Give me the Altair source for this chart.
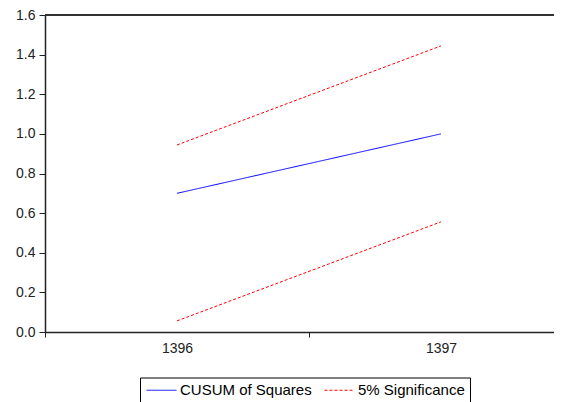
import altair as alt
import pandas as pd

years = [1396, 1397]
cusum = [0.70, 1.00]
upper = [0.944, 1.444]
lower = [0.056, 0.556]
series_names = ["CUSUM of Squares", "5% Significance"]
series_colors = ["#0000ff", "#ff0000"]
y_ticks = [0.0, 0.2, 0.4, 0.6, 0.8, 1.0, 1.2, 1.4, 1.6]
x_ticks = [1395.5, 1396, 1396.5, 1397, 1397.5]

rows = []
for y, v in zip(years, cusum):
    rows.append({"year": y, "value": v, "series": series_names[0], "band": "cusum"})
for y, v in zip(years, upper):
    rows.append({"year": y, "value": v, "series": series_names[1], "band": "upper"})
for y, v in zip(years, lower):
    rows.append({"year": y, "value": v, "series": series_names[1], "band": "lower"})
df = pd.DataFrame(rows)

FONT = "Liberation Sans"

legend = alt.Legend(
    title=None, orient="none", legendX=95, legendY=362.5, direction="horizontal",
    strokeColor="black", fillColor="white", padding=5, symbolType="M-3,0H3",
    symbolSize=100, symbolStrokeWidth=1, symbolOffset=9, labelFont=FONT, labelFontSize=15,
    labelColor="black", columnPadding=10, labelOffset=11,
    symbolStrokeColor={"expr": f"datum.value == '{series_names[0]}' ? '{series_colors[0]}' : '{series_colors[1]}'"},
)

yscale = alt.Scale(domain=[0, 1.6], nice=False, zero=False)
yaxis = alt.Axis(values=y_ticks, format=".1f", title=None, tickSize=6, labelPadding=4)

lines = alt.Chart(df).mark_line(strokeWidth=1).encode(
    x=alt.X("year:Q",
            scale=alt.Scale(domain=[1395.5, 1397.5], range=[0, 528], nice=False, zero=False),
            axis=alt.Axis(values=x_ticks, title=None,
                          labelExpr="datum.value % 1 == 0 ? format(datum.value, 'd') : ''",
                          tickOpacity={"condition": {"test": "datum.value % 1 == 0", "value": 0}, "value": 1},
                          tickSize=5, labelPadding=4, labelOverlap=False, labelFlush=False)),
    y=alt.Y("value:Q", scale=yscale, axis=yaxis),
    color=alt.Color("series:N", scale=alt.Scale(domain=series_names, range=series_colors), legend=legend),
    strokeDash=alt.StrokeDash("series:N", scale=alt.Scale(domain=series_names, range=[[1, 0], [3, 2]]), legend=legend),
    detail="band:N",
)

top = alt.Chart(pd.DataFrame({"value": [1.6]})).mark_rule(color="#333333", strokeWidth=2).encode(
    y=alt.Y("value:Q", scale=yscale, axis=yaxis)
)

chart = alt.layer(lines, top).properties(
    width=509, height=317,
    padding={"left": 37, "top": 7, "right": 0, "bottom": 70},
    autosize=alt.AutoSizeParams(type="none"),
).configure_view(stroke=None).configure_axis(
    grid=False, domainColor="#222222", domainWidth=1.5, tickColor="#222222", tickWidth=1,
    labelFont=FONT, labelFontSize=14, labelColor="#222222",
)

chart.save("out.html", embed_options={"renderer": "svg", "actions": False})
